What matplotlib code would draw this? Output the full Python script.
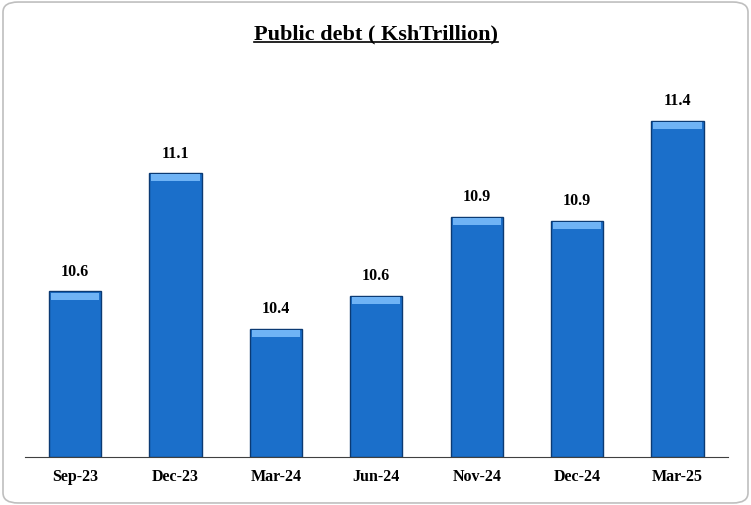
import matplotlib.pyplot as plt
from matplotlib.patches import FancyBboxPatch

categories = ['Sep-23', 'Dec-23', 'Mar-24', 'Jun-24', 'Nov-24', 'Dec-24', 'Mar-25']
debt = [10.58, 11.149, 10.40, 10.56, 10.94, 10.92, 11.40]

Y_MIN = 9.785
Y_MAX = 11.65

fig = plt.figure(figsize=(7.51, 5.06), dpi=100)
fig.patch.set_facecolor('white')

# rounded grey frame around the chart
frame = FancyBboxPatch((0.004, 0.004), 0.992, 0.99, boxstyle='round,pad=0,rounding_size=0.02',
                       transform=fig.transFigure, facecolor='none', edgecolor='#bfbfbf', linewidth=1.2)
fig.patches.append(frame)

ax = fig.add_axes([0.033, 0.095, 0.936, 0.767])
x = range(len(categories))
ax.bar(x, [v - Y_MIN for v in debt], bottom=Y_MIN, width=0.52,
       color='#1b6fca', edgecolor='#0b3a73', linewidth=1.0)
# light highlight at the top of each bar
ax.bar(x, [0.035] * len(debt), bottom=[v - 0.04 for v in debt], width=0.48,
       color='#6fb3f5', edgecolor='none')

for xi, v in zip(x, debt):
    ax.text(xi, v + 0.06, f'{v:.1f}', ha='center', va='bottom',
            fontsize=11.5, fontweight='bold', family='Liberation Serif')

ax.set_ylim(Y_MIN, Y_MAX)
ax.set_xlim(-0.5, len(categories) - 0.5)
ax.set_xticks(list(x))
ax.set_xticklabels(categories, fontsize=11.5, fontweight='bold', family='Liberation Serif')
ax.tick_params(axis='x', length=0, pad=8)
ax.set_yticks([])
for side in ['top', 'right', 'left']:
    ax.spines[side].set_visible(False)
ax.spines['bottom'].set_color('#404040')

title = fig.text(0.5, 0.932, 'Public debt ( KshTrillion)', ha='center', va='center',
                 fontsize=16, fontweight='bold', family='Liberation Serif')
fig.canvas.draw()
bb = title.get_window_extent().transformed(fig.transFigure.inverted())
fig.add_artist(plt.Line2D([bb.x0, bb.x1], [bb.y0 + 0.002, bb.y0 + 0.002],
                          transform=fig.transFigure, color='black', linewidth=1.2))

plt.savefig('out.png', dpi=100)
